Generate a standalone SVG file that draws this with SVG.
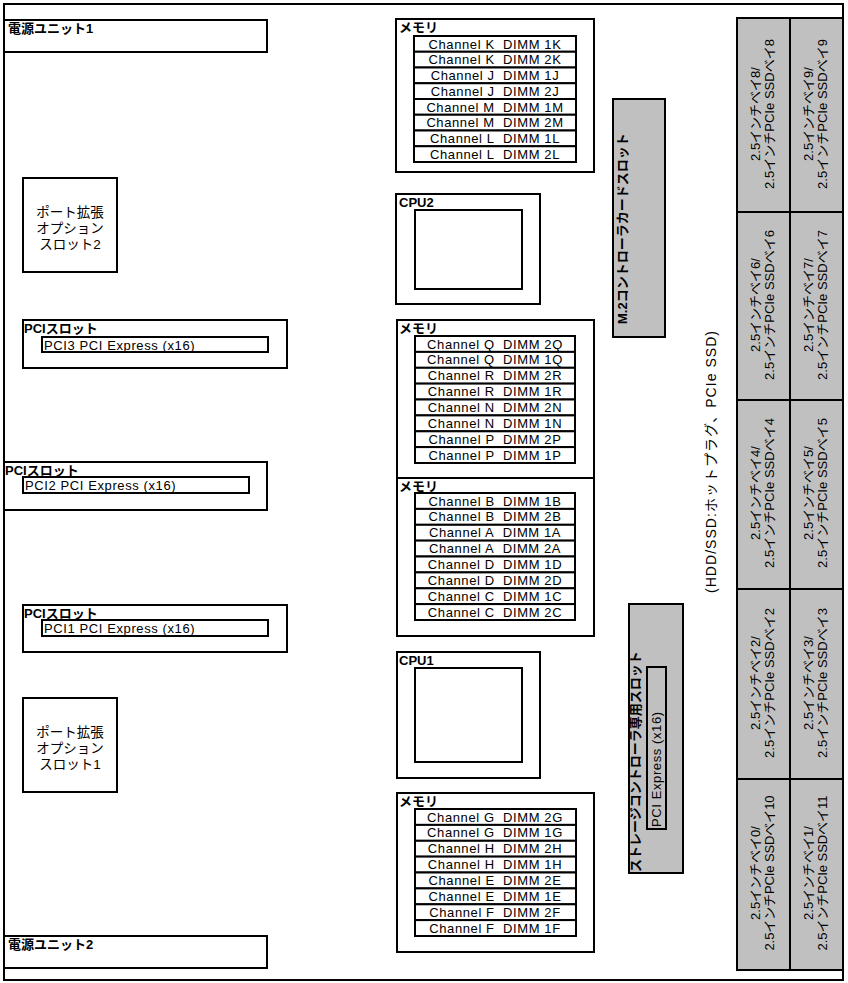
<svg xmlns="http://www.w3.org/2000/svg" width="848" height="983" viewBox="0 0 848 983">
<style>
rect{fill:#fff;stroke:#000;stroke-width:2}
.g{fill:#c0c0c0}
text{font-family:"Liberation Sans","Noto Sans CJK JP",sans-serif;font-size:13px;fill:#000}
.b{font-weight:bold}
.c{text-anchor:middle}
.m{letter-spacing:0.6px}
.p{font-size:13.5px}
.y{font-size:13px}
</style>
<rect x="0" y="0" width="848" height="983" style="stroke:none"/>
<rect id="chassis" x="4" y="4" width="839" height="976"/>
<g id="psu1"><rect x="4" y="20" width="263" height="32"/><text class="b" x="8" y="33">電源ユニット1</text></g>
<g id="psu2"><rect x="4" y="936" width="263" height="32"/><text class="b" x="8" y="949">電源ユニット2</text></g>
<g id="port2"><rect x="23" y="178" width="94" height="94"/>
<text class="c p" x="70" y="217">ポート拡張</text><text class="c p" x="70" y="233">オプション</text><text class="c p" x="70" y="249">スロット2</text></g>
<g id="port1"><rect x="23" y="698" width="94" height="94"/>
<text class="c p" x="70" y="737">ポート拡張</text><text class="c p" x="70" y="753">オプション</text><text class="c p" x="70" y="769">スロット1</text></g>
<g id="pci3"><rect x="23" y="320" width="264" height="48"/><text class="b" x="24" y="333">PCIスロット</text>
<rect x="42" y="337" width="226" height="15"/><text class="m" x="44" y="349.5">PCI3 PCI Express (x16)</text></g>
<g id="pci2"><rect x="4" y="462" width="263" height="48"/><text class="b" x="5" y="475">PCIスロット</text>
<rect x="23" y="477" width="226" height="16"/><text class="m" x="25" y="490">PCI2 PCI Express (x16)</text></g>
<g id="pci1"><rect x="23" y="605" width="264" height="47"/><text class="b" x="24" y="618">PCIスロット</text>
<rect x="42" y="620" width="226" height="16"/><text class="m" x="44" y="633">PCI1 PCI Express (x16)</text></g>
<g id="mem-top"><rect x="396" y="19" width="198" height="153"/><text class="b" x="399" y="32">メモリ</text>
<rect x="414" y="36" width="162" height="15.75"/><text class="c m" x="495" y="48.5">Channel K&#160; DIMM 1K</text>
<rect x="414" y="51.75" width="162" height="15.75"/><text class="c m" x="495" y="64.25">Channel K&#160; DIMM 2K</text>
<rect x="414" y="67.5" width="162" height="15.75"/><text class="c m" x="495" y="80">Channel J&#160; DIMM 1J</text>
<rect x="414" y="83.25" width="162" height="15.75"/><text class="c m" x="495" y="95.75">Channel J&#160; DIMM 2J</text>
<rect x="414" y="99" width="162" height="15.75"/><text class="c m" x="495" y="111.5">Channel M&#160; DIMM 1M</text>
<rect x="414" y="114.75" width="162" height="15.75"/><text class="c m" x="495" y="127.25">Channel M&#160; DIMM 2M</text>
<rect x="414" y="130.5" width="162" height="15.75"/><text class="c m" x="495" y="143">Channel L&#160; DIMM 1L</text>
<rect x="414" y="146.25" width="162" height="15.75"/><text class="c m" x="495" y="158.75">Channel L&#160; DIMM 2L</text></g>
<g id="cpu2"><rect x="396" y="194" width="144" height="110"/><text class="b" x="399" y="207">CPU2</text>
<rect x="415" y="210" width="107" height="79"/></g>
<g id="mem-q"><rect x="397" y="320" width="197" height="158"/><text class="b" x="399" y="333">メモリ</text>
<rect x="415" y="336" width="160" height="15.9"/><text class="c m" x="495" y="348.5">Channel Q&#160; DIMM 2Q</text>
<rect x="415" y="351.9" width="160" height="15.9"/><text class="c m" x="495" y="364.4">Channel Q&#160; DIMM 1Q</text>
<rect x="415" y="367.8" width="160" height="15.9"/><text class="c m" x="495" y="380.3">Channel R&#160; DIMM 2R</text>
<rect x="415" y="383.6" width="160" height="15.9"/><text class="c m" x="495" y="396.1">Channel R&#160; DIMM 1R</text>
<rect x="415" y="399.5" width="160" height="15.9"/><text class="c m" x="495" y="412">Channel N&#160; DIMM 2N</text>
<rect x="415" y="415.4" width="160" height="15.9"/><text class="c m" x="495" y="427.9">Channel N&#160; DIMM 1N</text>
<rect x="415" y="431.3" width="160" height="15.9"/><text class="c m" x="495" y="443.8">Channel P&#160; DIMM 2P</text>
<rect x="415" y="447.1" width="160" height="15.9"/><text class="c m" x="495" y="459.6">Channel P&#160; DIMM 1P</text></g>
<g id="mem-b"><rect x="397" y="478" width="197" height="158"/><text class="b" x="399" y="491">メモリ</text>
<rect x="415" y="493" width="160" height="15.9"/><text class="c m" x="495" y="505.5">Channel B&#160; DIMM 1B</text>
<rect x="415" y="508.9" width="160" height="15.9"/><text class="c m" x="495" y="521.4">Channel B&#160; DIMM 2B</text>
<rect x="415" y="524.8" width="160" height="15.9"/><text class="c m" x="495" y="537.3">Channel A&#160; DIMM 1A</text>
<rect x="415" y="540.6" width="160" height="15.9"/><text class="c m" x="495" y="553.1">Channel A&#160; DIMM 2A</text>
<rect x="415" y="556.5" width="160" height="15.9"/><text class="c m" x="495" y="569">Channel D&#160; DIMM 1D</text>
<rect x="415" y="572.4" width="160" height="15.9"/><text class="c m" x="495" y="584.9">Channel D&#160; DIMM 2D</text>
<rect x="415" y="588.3" width="160" height="15.9"/><text class="c m" x="495" y="600.8">Channel C&#160; DIMM 1C</text>
<rect x="415" y="604.1" width="160" height="15.9"/><text class="c m" x="495" y="616.6">Channel C&#160; DIMM 2C</text></g>
<g id="cpu1"><rect x="397" y="652" width="143" height="126"/><text class="b" x="399" y="665">CPU1</text>
<rect x="415" y="668" width="107" height="94"/></g>
<g id="mem-g"><rect x="397" y="793" width="197" height="159"/><text class="b" x="399" y="806">メモリ</text>
<rect x="415" y="809" width="161" height="15.9"/><text class="c m" x="495" y="821.5">Channel G&#160; DIMM 2G</text>
<rect x="415" y="824.9" width="161" height="15.9"/><text class="c m" x="495" y="837.4">Channel G&#160; DIMM 1G</text>
<rect x="415" y="840.8" width="161" height="15.9"/><text class="c m" x="495" y="853.3">Channel H&#160; DIMM 2H</text>
<rect x="415" y="856.6" width="161" height="15.9"/><text class="c m" x="495" y="869.1">Channel H&#160; DIMM 1H</text>
<rect x="415" y="872.5" width="161" height="15.9"/><text class="c m" x="495" y="885">Channel E&#160; DIMM 2E</text>
<rect x="415" y="888.4" width="161" height="15.9"/><text class="c m" x="495" y="900.9">Channel E&#160; DIMM 1E</text>
<rect x="415" y="904.3" width="161" height="15.9"/><text class="c m" x="495" y="916.8">Channel F&#160; DIMM 2F</text>
<rect x="415" y="920.1" width="161" height="15.9"/><text class="c m" x="495" y="932.6">Channel F&#160; DIMM 1F</text></g>
<g id="m2slot"><rect class="g" x="613" y="99" width="52" height="238"/>
<text class="b" transform="translate(627,324) rotate(-90)">M.2コントローラカードスロット</text></g>
<g id="storageslot"><rect class="g" x="629" y="604" width="54" height="269"/>
<text class="b" transform="translate(640,872) rotate(-90)">ストレージコントローラ専用スロット</text>
<rect class="g" x="647" y="667" width="19" height="162"/>
<text class="m" transform="translate(661,827) rotate(-90)">PCI Express (x16)</text></g>
<g id="baylabel"><text class="c" style="font-size:14px" transform="translate(716,462) rotate(-90)" textLength="262" lengthAdjust="spacing">(HDD/SSD:ホットプラグ、PCIe SSD)</text></g>
<g id="bays">
<g id="bay8"><rect class="g" x="737" y="18" width="53" height="194"/><text class="c y" transform="translate(760,114) rotate(-90)"><tspan x="0" y="0">2.5インチベイ8/</tspan><tspan x="0" y="13.5" textLength="150">2.5インチPCIe SSDベイ8</tspan></text></g>
<g id="bay9"><rect class="g" x="790" y="18" width="53" height="194"/><text class="c y" transform="translate(813,114) rotate(-90)"><tspan x="0" y="0">2.5インチベイ9/</tspan><tspan x="0" y="13.5" textLength="150">2.5インチPCIe SSDベイ9</tspan></text></g>
<g id="bay6"><rect class="g" x="737" y="212" width="53" height="188"/><text class="c y" transform="translate(760,305) rotate(-90)"><tspan x="0" y="0">2.5インチベイ6/</tspan><tspan x="0" y="13.5" textLength="150">2.5インチPCIe SSDベイ6</tspan></text></g>
<g id="bay7"><rect class="g" x="790" y="212" width="53" height="188"/><text class="c y" transform="translate(813,305) rotate(-90)"><tspan x="0" y="0">2.5インチベイ7/</tspan><tspan x="0" y="13.5" textLength="150">2.5インチPCIe SSDベイ7</tspan></text></g>
<g id="bay4"><rect class="g" x="737" y="400" width="53" height="189"/><text class="c y" transform="translate(760,493) rotate(-90)"><tspan x="0" y="0">2.5インチベイ4/</tspan><tspan x="0" y="13.5" textLength="150">2.5インチPCIe SSDベイ4</tspan></text></g>
<g id="bay5"><rect class="g" x="790" y="400" width="53" height="189"/><text class="c y" transform="translate(813,493) rotate(-90)"><tspan x="0" y="0">2.5インチベイ5/</tspan><tspan x="0" y="13.5" textLength="150">2.5インチPCIe SSDベイ5</tspan></text></g>
<g id="bay2"><rect class="g" x="737" y="589" width="53" height="190"/><text class="c y" transform="translate(760,683) rotate(-90)"><tspan x="0" y="0">2.5インチベイ2/</tspan><tspan x="0" y="13.5" textLength="150">2.5インチPCIe SSDベイ2</tspan></text></g>
<g id="bay3"><rect class="g" x="790" y="589" width="53" height="190"/><text class="c y" transform="translate(813,683) rotate(-90)"><tspan x="0" y="0">2.5インチベイ3/</tspan><tspan x="0" y="13.5" textLength="150">2.5インチPCIe SSDベイ3</tspan></text></g>
<g id="bay0"><rect class="g" x="737" y="779" width="53" height="191"/><text class="c y" transform="translate(760,873) rotate(-90)"><tspan x="0" y="0">2.5インチベイ0/</tspan><tspan x="0" y="13.5" textLength="155">2.5インチPCIe SSDベイ10</tspan></text></g>
<g id="bay1"><rect class="g" x="790" y="779" width="53" height="191"/><text class="c y" transform="translate(813,873) rotate(-90)"><tspan x="0" y="0">2.5インチベイ1/</tspan><tspan x="0" y="13.5" textLength="155">2.5インチPCIe SSDベイ11</tspan></text></g>
</g>
<g id="connectors"/>
</svg>
